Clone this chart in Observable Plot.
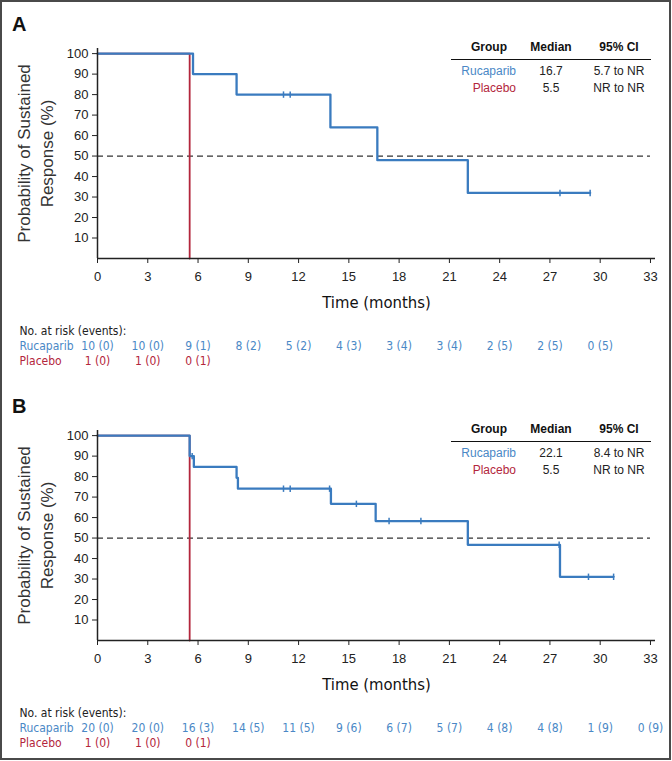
<!DOCTYPE html>
<html>
<head>
<meta charset="utf-8">
<script src="https://cdn.jsdelivr.net/npm/d3@7"></script>
<script src="https://cdn.jsdelivr.net/npm/@observablehq/plot@0.6"></script>
<style>
  html, body { margin: 0; padding: 0; background: #fff; }
  #fig { position: relative; width: 672px; height: 761px; overflow: hidden; background: #fff; }
  #frame { position: absolute; left: 0; top: 0; width: 671px; height: 760px; border: 2px solid #4a4a4a; box-sizing: border-box; pointer-events: none; }
  .panel { position: relative; width: 672px; }
  .panel svg { display: block; }
  .plabel { position: absolute; left: 12px; font: bold 20px 'Liberation Sans', Arial, sans-serif; line-height: 1; color: #111; }
  .lg { position: absolute; font-family: 'Liberation Sans', Arial, sans-serif; font-size: 12px; line-height: 1; white-space: nowrap; color: #222; }
  .c { transform: translate(-50%, -50%); }
  .r { transform: translate(-100%, -50%); }
  .hdr { font-weight: bold; color: #111; }
  .rule { position: absolute; height: 1.5px; background: #111; }
  .cond { font-stretch: condensed; }
</style>
</head>
<body>
<div id="fig"><div id="frame"></div></div>
<script>
// ---------- data ----------
const xTicks = [0, 3, 6, 9, 12, 15, 18, 21, 24, 27, 30, 33];
const yTicks = [10, 20, 30, 40, 50, 60, 70, 80, 90, 100];
const medianLine = 50;

// Panel A
const A_rucTime = [0, 5.7, 8.3, 13.9, 16.7, 22.1, 29.4];
const A_rucSurv = [100, 90, 80, 64, 48, 32, 32];
const A_rucCensTime = [11.1, 11.5, 27.6, 29.4];
const A_rucCensSurv = [80, 80, 32, 32];
const A_plaTime = [0, 5.5];
const A_plaSurv = [100, 0];
const A_riskTimes = [0, 3, 6, 9, 12, 15, 18, 21, 24, 27, 30];
const A_rucAtRisk = [10, 10, 9, 8, 5, 4, 3, 3, 2, 2, 0];
const A_rucEvents = [0, 0, 1, 2, 2, 3, 4, 4, 5, 5, 5];
const A_plaRiskTimes = [0, 3, 6];
const A_plaAtRisk = [1, 1, 0];
const A_plaEvents = [0, 0, 1];
const A_median = ["16.7", "5.5"];
const A_ci = ["5.7 to NR", "NR to NR"];

// Panel B
const B_rucTime = [0, 5.5, 5.75, 8.3, 8.38, 13.93, 16.6, 22.1, 27.6, 30.8];
const B_rucSurv = [100, 90, 84.7, 79.4, 74.1, 66.7, 58.3, 46.7, 31.1, 31.1];
const B_rucCensTime = [5.65, 11.1, 11.5, 13.85, 15.45, 17.4, 19.3, 27.55, 29.3, 30.8];
const B_rucCensSurv = [90, 74.1, 74.1, 74.1, 66.7, 58.3, 58.3, 46.7, 31.1, 31.1];
const B_plaTime = [0, 5.5];
const B_plaSurv = [100, 0];
const B_riskTimes = [0, 3, 6, 9, 12, 15, 18, 21, 24, 27, 30, 33];
const B_rucAtRisk = [20, 20, 16, 14, 11, 9, 6, 5, 4, 4, 1, 0];
const B_rucEvents = [0, 0, 3, 5, 5, 6, 7, 7, 8, 8, 9, 9];
const B_plaRiskTimes = [0, 3, 6];
const B_plaAtRisk = [1, 1, 0];
const B_plaEvents = [0, 0, 1];
const B_median = ["22.1", "5.5"];
const B_ci = ["8.4 to NR", "NR to NR"];

const groups = ["Rucaparib", "Placebo"];
const tableHeader = ["Group", "Median", "95% CI"];
const xTitle = "Time (months)";
const yTitle = "Probability of Sustained\nResponse (%)";
const riskTitle = "No. at risk (events):";

// ---------- style ----------
const blue = "#3a7bbf";
const blueText = "#4a88c6";
const red = "#b3263c";
const sans = "'Liberation Sans', Arial, Helvetica, sans-serif";
const narrow = "'DejaVu Sans Condensed', 'DejaVu Sans', sans-serif";

const tickSym = {
  draw(ctx, size) {
    const h = Math.sqrt(size / Math.PI);
    ctx.moveTo(0, -h);
    ctx.lineTo(0, h);
  }
};

const zip = (t, s) => t.map((v, i) => ({t: v, s: s[i]}));

function mainPlot(p) {
  const ruc = zip(p.rucTime, p.rucSurv);
  const pla = zip(p.plaTime, p.plaSurv);
  const cens = zip(p.censTime, p.censSurv);
  const svg = Plot.plot({
    width: 672, height: 320,
    marginLeft: 97, marginRight: 17, marginTop: 48, marginBottom: 62,
    style: {fontFamily: sans, fontSize: "13px", color: "#222", background: "transparent", overflow: "visible"},
    x: {domain: [0, 33.3]},
    y: {domain: [0, 102.5]},
    marks: [
      Plot.ruleY([medianLine], {x1: 0, x2: 33, stroke: "#333", strokeWidth: 1.2, strokeDasharray: "6,4"}),
      Plot.line(pla, {x: "t", y: "s", curve: "step-after", stroke: red, strokeWidth: 1.8}),
      Plot.line(ruc, {x: "t", y: "s", curve: "step-after", stroke: blue, strokeWidth: 2.3}),
      Plot.dot(cens, {x: "t", y: "s", symbol: tickSym, r: 3.2, stroke: blue, strokeWidth: 1.5, fill: "none"}),
      Plot.ruleY([0], {stroke: "#222", strokeWidth: 1.5}),
      Plot.ruleX([0], {stroke: "#222", strokeWidth: 1.5}),
      Plot.axisX({ticks: xTicks, tickSize: 5, tickPadding: 8, label: null, fontSize: 13}),
      Plot.axisY({ticks: yTicks, tickSize: 5, tickPadding: 4, label: null, fontSize: 13}),
      Plot.text([xTitle], {frameAnchor: "bottom", dy: 44, lineAnchor: "middle", textAnchor: "middle", fontFamily: narrow, fontSize: 16.5, fill: "#111", className: "cond"}),
      Plot.text([yTitle], {frameAnchor: "left", dx: -63.5, rotate: -90, textAnchor: "middle", lineAnchor: "middle", fontSize: 17, lineHeight: 1.35, fill: "#333"})
    ]
  });
  return svg;
}

function riskPlot(p) {
  const ruc = p.riskTimes.map((t, i) => ({t, label: `${p.rucN[i]} (${p.rucE[i]})`}));
  const pla = p.plaRiskTimes.map((t, i) => ({t, label: `${p.plaN[i]} (${p.plaE[i]})`}));
  return Plot.plot({
    width: 672, height: 62,
    marginLeft: 97, marginRight: 17, marginTop: 0, marginBottom: 0,
    style: {fontFamily: narrow, fontSize: "12px", fontStretch: "condensed", background: "transparent", overflow: "visible"},
    x: {domain: [0, 33.3], axis: null},
    y: {type: "point", domain: ["hdr", ...groups], range: [11, 41], padding: 0, axis: null},
    marks: [
      Plot.text(ruc, {x: "t", y: () => groups[0], text: "label", fill: blueText, fontSize: 12}),
      Plot.text(pla, {x: "t", y: () => groups[1], text: "label", fill: red, fontSize: 12}),
      Plot.text([riskTitle], {y: () => "hdr", frameAnchor: "left", dx: -78, textAnchor: "start", fill: "#222", fontSize: 12}),
      Plot.text([groups[0]], {y: d => d, frameAnchor: "left", dx: -78, textAnchor: "start", fill: blueText, fontSize: 12}),
      Plot.text([groups[1]], {y: d => d, frameAnchor: "left", dx: -78, textAnchor: "start", fill: red, fontSize: 12})
    ]
  });
}

function legendTable(container, p) {
  const add = (cls, text, x, y, color) => {
    const el = document.createElement("div");
    el.className = "lg " + cls;
    el.textContent = text;
    el.style.left = x + "px";
    el.style.top = y + "px";
    if (color) el.style.color = color;
    container.appendChild(el);
  };
  add("c hdr", tableHeader[0], 489, 47);
  add("c hdr", tableHeader[1], 551, 47);
  add("c hdr", tableHeader[2], 619, 47);
  const rule = document.createElement("div");
  rule.className = "rule";
  rule.style.left = "451px"; rule.style.width = "200px"; rule.style.top = "58.5px";
  container.appendChild(rule);
  const rowsY = [70.5, 88];
  const colors = [blueText, red];
  groups.forEach((g, i) => {
    add("r", g, 516, rowsY[i], colors[i]);
    add("c", p.median[i], 551, rowsY[i]);
    add("c", p.ci[i], 619, rowsY[i]);
  });
}

function panel(p, letter, h) {
  const div = document.createElement("div");
  div.className = "panel";
  div.style.height = h + "px";
  div.appendChild(mainPlot(p));
  div.appendChild(riskPlot(p));
  const lab = document.createElement("div");
  lab.className = "plabel";
  lab.style.top = "14px";
  lab.textContent = letter;
  div.appendChild(lab);
  legendTable(div, p);
  return div;
}

const fig = document.getElementById("fig");
const frame = document.getElementById("frame");
fig.insertBefore(panel({
  rucTime: A_rucTime, rucSurv: A_rucSurv, censTime: A_rucCensTime, censSurv: A_rucCensSurv,
  plaTime: A_plaTime, plaSurv: A_plaSurv,
  riskTimes: A_riskTimes, rucN: A_rucAtRisk, rucE: A_rucEvents,
  plaRiskTimes: A_plaRiskTimes, plaN: A_plaAtRisk, plaE: A_plaEvents,
  median: A_median, ci: A_ci
}, "A", 382), frame);
fig.insertBefore(panel({
  rucTime: B_rucTime, rucSurv: B_rucSurv, censTime: B_rucCensTime, censSurv: B_rucCensSurv,
  plaTime: B_plaTime, plaSurv: B_plaSurv,
  riskTimes: B_riskTimes, rucN: B_rucAtRisk, rucE: B_rucEvents,
  plaRiskTimes: B_plaRiskTimes, plaN: B_plaAtRisk, plaE: B_plaEvents,
  median: B_median, ci: B_ci
}, "B", 379), frame);
</script>
</body>
</html>
